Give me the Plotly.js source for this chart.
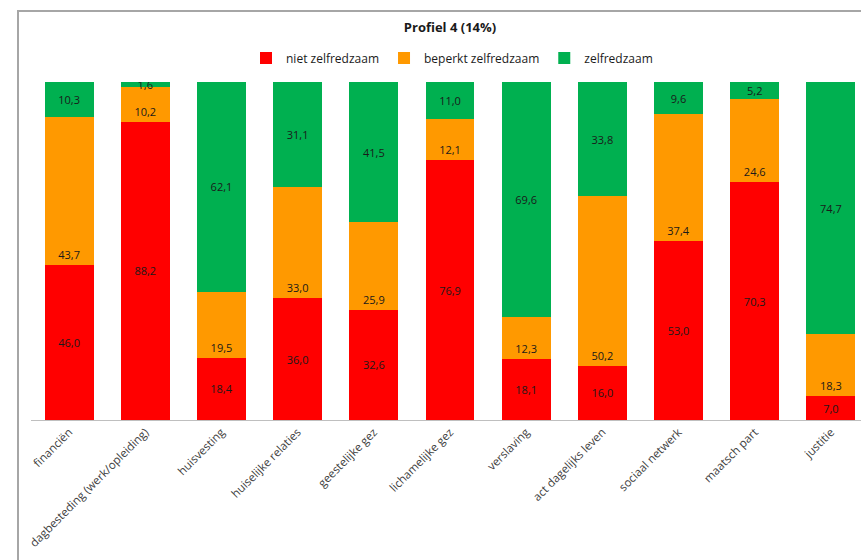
<!DOCTYPE html>
<html>
<head>
<meta charset="utf-8">
<script src="https://cdn.plot.ly/plotly-3.0.1.min.js"></script>
<style>
  html, body { margin: 0; padding: 0; width: 861px; height: 560px; overflow: hidden; background: #fff; }
  #frame { position: absolute; left: 17px; top: 10px; width: 900px; height: 600px;
           border-left: 2px solid #a6a6a6; border-top: 2px solid #a6a6a6; box-sizing: border-box; }
  #chart { position: absolute; left: 0; top: 0; width: 880px; height: 560px; }
</style>
</head>
<body>
<div id="frame"></div>
<div id="chart"></div>
<script>
const categories = ["financiën", "dagbesteding (werk/opleiding)", "huisvesting", "huiselijke relaties",
  "geestelijke gez", "lichamelijke gez", "verslaving", "act dagelijks leven", "sociaal netwerk",
  "maatsch part", "justitie"];
const nietZelfredzaam = [46.0, 88.2, 18.4, 36.0, 32.6, 76.9, 18.1, 16.0, 53.0, 70.3, 7.0];
const beperktZelfredzaam = [43.7, 10.2, 19.5, 33.0, 25.9, 12.1, 12.3, 50.2, 37.4, 24.6, 18.3];
const zelfredzaam = [10.3, 1.6, 62.1, 31.1, 41.5, 11.0, 69.6, 33.8, 9.6, 5.2, 74.7];
const seriesNames = ["niet zelfredzaam", "beperkt zelfredzaam", "zelfredzaam"];
const seriesColors = ["#FF0000", "#FF9900", "#00B050"];

const fmt = v => v.toFixed(1).replace('.', ',');
const FONT = '"Open Sans", "DejaVu Sans", sans-serif';

function mk(name, vals, color, anchor) {
  return {
    type: 'bar', name: name, x: categories, y: vals,
    marker: { color: color, line: { width: 0 } },
    text: vals.map(fmt), textposition: 'inside', insidetextanchor: anchor,
    textangle: 0, constraintext: 'none',
    textfont: { family: FONT, size: 11, color: '#1a1a1a' },
    hoverinfo: 'x+y+name'
  };
}

const data = [
  mk(seriesNames[0], nietZelfredzaam, seriesColors[0], 'middle'),
  mk(seriesNames[1], beperktZelfredzaam, seriesColors[1], 'start'),
  mk(seriesNames[2], zelfredzaam, seriesColors[2], 'middle')
];

const layout = {
  width: 880, height: 560,
  margin: { l: 31, r: 11, t: 82, b: 140 },
  barmode: 'stack', bargap: 0.357,
  paper_bgcolor: 'rgba(0,0,0,0)', plot_bgcolor: 'rgba(0,0,0,0)',
  font: { family: FONT, size: 11, color: '#404040' },
  title: { text: '<b>Profiel 4 (14%)</b>', font: { family: FONT, size: 13, color: '#1a1a1a' },
           x: 450 / 880, xanchor: 'center', y: 1 - 27 / 560, yanchor: 'middle', yref: 'container' },
  showlegend: true,
  legend: { orientation: 'h', x: (452 - 31) / 838, xanchor: 'center', y: (420 - 58) / 338, yanchor: 'middle',
            font: { family: FONT, size: 12, color: '#1a1a1a' }, traceorder: 'normal' },
  xaxis: { type: 'category', tickangle: -45, showline: true, linecolor: '#bfbfbf', linewidth: 1,
           ticks: '', showgrid: false, tickfont: { family: FONT, size: 11.5, color: '#404040' } },
  yaxis: { range: [0, 100], visible: false, showgrid: false, zeroline: false }
};

Plotly.newPlot('chart', data, layout, { displayModeBar: false, staticPlot: true });
</script>
</body>
</html>
